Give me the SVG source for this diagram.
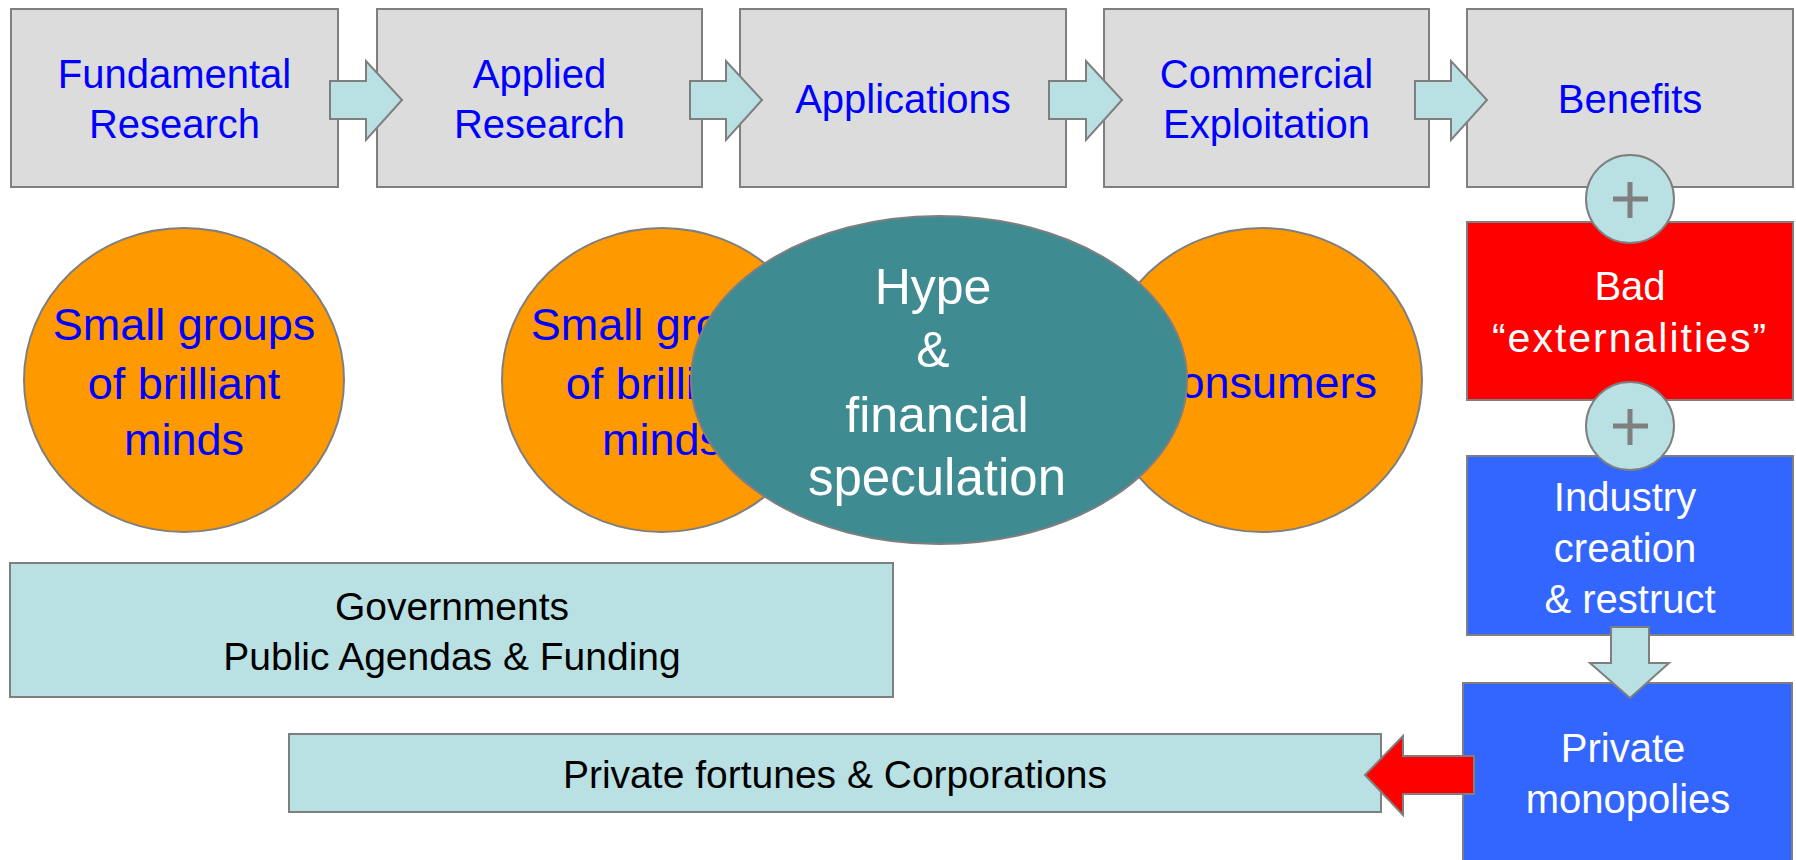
<svg xmlns="http://www.w3.org/2000/svg" width="1796" height="860" viewBox="0 0 1796 860">
<style>
.box{fill:#dcdcdc;stroke:#7f7f7f;stroke-width:2}
.arr{fill:#b9e0e3;stroke:#7f7f7f;stroke-width:2}
.orb{fill:#ff9900;stroke:#7f7f7f;stroke-width:2}
.cyan{fill:#b9e0e3;stroke:#7f7f7f;stroke-width:2}
.t{font-family:"Liberation Sans",Arial,sans-serif;text-anchor:middle}
.blue{fill:#0000ff}
.white{fill:#ffffff}
.black{fill:#000000}
.plus{stroke:#7f7f7f;stroke-width:5;fill:none}
</style>
<rect width="1796" height="860" fill="#ffffff"/>
<g id="fundamental">
<rect class="box" x="11" y="9" width="327" height="178"/>
<text class="t blue" font-size="40" x="174.5" y="88">Fundamental</text>
<text class="t blue" font-size="40" x="174.5" y="138">Research</text>
</g>
<g id="applied">
<rect class="box" x="377" y="9" width="325" height="178"/>
<text class="t blue" font-size="40" x="539.5" y="88">Applied</text>
<text class="t blue" font-size="40" x="539.5" y="138">Research</text>
</g>
<g id="applications">
<rect class="box" x="740" y="9" width="326" height="178"/>
<text class="t blue" font-size="40" x="903" y="113">Applications</text>
</g>
<g id="commercial">
<rect class="box" x="1104" y="9" width="325" height="178"/>
<text class="t blue" font-size="40" x="1266.5" y="88">Commercial</text>
<text class="t blue" font-size="40" x="1266.5" y="138">Exploitation</text>
</g>
<g id="benefits">
<rect class="box" x="1467" y="9" width="326" height="178"/>
<text class="t blue" font-size="40" x="1630" y="113">Benefits</text>
</g>
<g id="bad-externalities">
<rect x="1467" y="222" width="326" height="178" fill="#ff0000" stroke="#7f7f7f" stroke-width="2"/>
<text class="t white" font-size="40" x="1630" y="300">Bad</text>
<text class="t white" font-size="41" letter-spacing="2" x="1630" y="352">“externalities”</text>
</g>
<g id="industry">
<rect x="1467" y="456" width="326" height="179" fill="#3366ff" stroke="#7f7f7f" stroke-width="2"/>
<text class="t white" font-size="40" x="1625" y="511">Industry</text>
<text class="t white" font-size="40" x="1625" y="562">creation</text>
<text class="t white" font-size="40" x="1630" y="613">&amp; restruct</text>
</g>
<g id="monopolies">
<rect x="1463" y="683" width="329" height="190" fill="#3366ff" stroke="#7f7f7f" stroke-width="2"/>
<text class="t white" font-size="40" x="1623" y="762">Private</text>
<text class="t white" font-size="40" x="1628" y="813">monopolies</text>
</g>
<g id="plus1">
<circle class="cyan" cx="1630" cy="199" r="44"/>
<path class="plus" d="M1613,199 H1648 M1630,182 V218"/>
</g>
<g id="plus2">
<circle class="cyan" cx="1630" cy="426" r="44"/>
<path class="plus" d="M1613,426 H1648 M1630,409 V445"/>
</g>
<g id="minds1">
<ellipse class="orb" cx="184" cy="380" rx="160" ry="152"/>
<text class="t blue" font-size="45" x="184" y="340">Small groups</text>
<text class="t blue" font-size="45" x="184" y="399">of brilliant</text>
<text class="t blue" font-size="45" x="184" y="455">minds</text>
</g>
<g id="minds2">
<ellipse class="orb" cx="662" cy="380" rx="160" ry="152"/>
<text class="t blue" font-size="45" x="662" y="340">Small groups</text>
<text class="t blue" font-size="45" x="662" y="399">of brilliant</text>
<text class="t blue" font-size="45" x="662" y="455">minds</text>
</g>
<g id="consumers">
<ellipse class="orb" cx="1262" cy="380" rx="160" ry="152"/>
<text class="t blue" font-size="45" x="1262" y="398">Consumers</text>
</g>
<g id="hype">
<ellipse cx="939" cy="380" rx="248" ry="164" fill="#3f8b92" stroke="#7f7f7f" stroke-width="2"/>
<text class="t white" font-size="50" x="933" y="304">Hype</text>
<text class="t white" font-size="50" x="933" y="367">&amp;</text>
<text class="t white" font-size="50" x="937" y="432">financial</text>
<text class="t white" font-size="51" x="937" y="495">speculation</text>
</g>
<g id="governments">
<rect class="cyan" x="10" y="563" width="883" height="134"/>
<text class="t black" font-size="39" x="452" y="620">Governments</text>
<text class="t black" font-size="39" x="452" y="670">Public Agendas &amp; Funding</text>
</g>
<g id="private-fortunes">
<rect class="cyan" x="289" y="734" width="1092" height="78"/>
<text class="t black" font-size="39" x="835" y="788">Private fortunes &amp; Corporations</text>
</g>
<g id="connectors">
<path class="arr" d="M330,81 H366 V61 L402,100 L366,140 V119 H330 Z"/>
<path class="arr" d="M690,81 H726 V61 L762,100 L726,140 V119 H690 Z"/>
<path class="arr" d="M1049,81 H1086 V61 L1122,100 L1086,140 V119 H1049 Z"/>
<path class="arr" d="M1415,81 H1451 V61 L1487,100 L1451,140 V119 H1415 Z"/>
<path class="arr" d="M1611,627 V663 H1590 L1630,698 L1669,663 H1649 V627 Z"/>
<path d="M1474,756 H1403 V736 L1365,775 L1403,815 V794 H1474 Z" fill="#ff0000" stroke="#7f7f7f" stroke-width="2"/>
</g>
</svg>
